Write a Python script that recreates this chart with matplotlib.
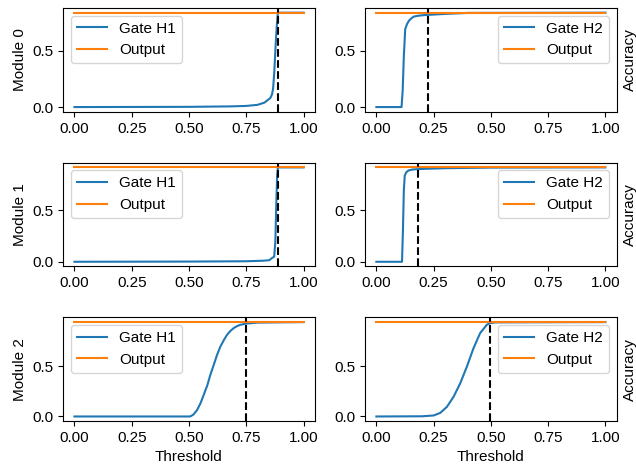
import numpy as np
import matplotlib
matplotlib.use("Agg")
import matplotlib.pyplot as plt

plt.rcParams['font.family'] = ['Liberation Sans', 'DejaVu Sans']
plt.rcParams['font.size'] = 11

# accuracy of the full output per module
output_acc = [0.835, 0.92, 0.94]
# chosen thresholds (gate H1, gate H2)
thresholds = [(0.889, 0.224), (0.888, 0.182), (0.749, 0.495)]

# gate H1 curves
h1_x = [
    [0.0, 0.5, 0.68, 0.75, 0.80, 0.83, 0.855, 0.862, 0.867, 0.872, 0.876, 0.88, 0.884, 0.888, 0.89, 1.0],
    [0.0, 0.5, 0.75, 0.82, 0.85, 0.862, 0.872, 0.877, 0.881, 0.885, 0.888, 1.0],
    [0.0, 0.5, 0.507, 0.52, 0.535, 0.55, 0.564, 0.58, 0.593, 0.608, 0.622, 0.637,
     0.652, 0.666, 0.68, 0.695, 0.71, 0.724, 0.75, 0.8, 1.0],
]
h1_y = [
    [0.0, 0.002, 0.006, 0.01, 0.02, 0.04, 0.08, 0.11, 0.16, 0.3, 0.46, 0.61, 0.74, 0.835, 0.835, 0.835],
    [0.0, 0.002, 0.005, 0.01, 0.015, 0.036, 0.05, 0.2, 0.55, 0.85, 0.92, 0.92],
    [0.0, 0.0, 0.002, 0.02, 0.063, 0.13, 0.213, 0.31, 0.413, 0.513, 0.61, 0.696,
     0.76, 0.813, 0.85, 0.88, 0.90, 0.913, 0.925, 0.935, 0.94],
]

# gate H2 curves
h2_x = [
    [0.0, 0.11, 0.115, 0.12, 0.126, 0.133, 0.141, 0.15, 0.163, 0.18, 0.2, 0.22, 0.3, 0.4, 1.0],
    [0.0, 0.112, 0.116, 0.12, 0.124, 0.13, 0.14, 0.16, 0.2, 0.3, 0.5, 1.0],
    [0.0, 0.2, 0.25, 0.279, 0.308, 0.337, 0.366, 0.395, 0.424, 0.453, 0.482, 0.497, 0.52, 1.0],
]
h2_y = [
    [0.0, 0.0, 0.15, 0.45, 0.69, 0.73, 0.76, 0.78, 0.80, 0.807, 0.812, 0.815, 0.824, 0.833, 0.835],
    [0.0, 0.0, 0.3, 0.7, 0.84, 0.87, 0.89, 0.90, 0.905, 0.912, 0.918, 0.92],
    [0.0, 0.002, 0.01, 0.036, 0.096, 0.196, 0.33, 0.496, 0.68, 0.83, 0.913, 0.93, 0.937, 0.94],
]

fig, axes = plt.subplots(3, 2, figsize=(6.36, 4.68), dpi=100)
fig.subplots_adjust(left=0.099, right=0.970, top=0.983, bottom=0.100, wspace=0.198, hspace=0.49)

for i in range(3):
    for j in range(2):
        ax = axes[i, j]
        xs = h1_x[i] if j == 0 else h2_x[i]
        ys = h1_y[i] if j == 0 else h2_y[i]
        ax.plot(xs, ys, label='Gate H%d' % (j + 1))
        ax.plot([0, 1], [output_acc[i], output_acc[i]], label='Output')
        ax.axvline(thresholds[i][j], color='k', linestyle='--')
        ax.set_xticks([0, 0.25, 0.5, 0.75, 1.0])
        ax.set_yticks([0, 0.5])
        if j == 0:
            ax.legend(loc='upper left')
            ax.set_ylabel('Module %d' % i)
        else:
            ax.legend(loc='upper right')
            ax.yaxis.set_label_position('right')
            ax.set_ylabel('Accuracy')
        if i == 2:
            ax.set_xlabel('Threshold')

fig.savefig('out.png')
